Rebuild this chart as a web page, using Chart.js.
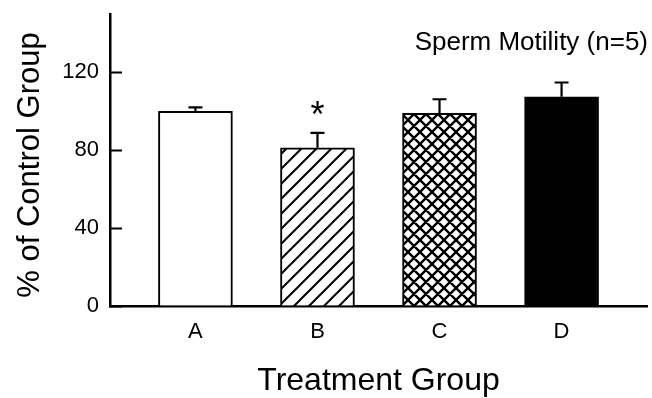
<!DOCTYPE html>
<html>
<head>
<meta charset="utf-8">
<script src="https://cdn.jsdelivr.net/npm/chart.js@4/dist/chart.umd.min.js"></script>
<style>
  html, body { margin: 0; padding: 0; background: #ffffff; }
  #wrap { width: 652px; height: 398px; }
</style>
</head>
<body>
<div id="wrap"><canvas id="c" width="652" height="398"></canvas></div>
<script>
// Treatment groups and sperm motility, as % of control (mean and SEM)
const groups = ['A', 'B', 'C', 'D'];
const motility = [100, 81.3, 99.0, 107.5];
const sem = [2.0, 7.6, 7.2, 7.3];
const significant = [false, true, false, false];
const yTicks = [0, 40, 80, 120];

const FONT = "'Liberation Sans', Arial, Helvetica, sans-serif";

// Hatch fills drawn into small repeating tiles
function hatchPattern(size, lineWidth, cross) {
  const t = document.createElement('canvas');
  t.width = size; t.height = size;
  const g = t.getContext('2d');
  g.fillStyle = '#ffffff';
  g.fillRect(0, 0, size, size);
  g.strokeStyle = '#000000';
  g.lineWidth = lineWidth;
  g.lineCap = 'square';
  g.beginPath();
  for (let k = -1; k <= 1; k++) {
    // "/" lines: x + y = size + k*size
    g.moveTo(-1, size + k * size + 1);
    g.lineTo(size + 1, k * size - 1);
    if (cross) {
      // "\" lines: x - y = k*size
      g.moveTo(-1, -1 - k * size);
      g.lineTo(size + 1, size + 1 - k * size);
    }
  }
  g.stroke();
  return document.getElementById('c').getContext('2d').createPattern(t, 'repeat');
}

const fills = [
  '#ffffff',
  hatchPattern(15, 2, false),
  hatchPattern(12, 2.4, true),
  '#000000'
];

// Upper SEM whiskers with caps, plus significance marks
const errorBars = {
  id: 'errorBars',
  afterDatasetsDraw(chart) {
    const ctx = chart.ctx;
    const y = chart.scales.y;
    const meta = chart.getDatasetMeta(0);
    ctx.save();
    ctx.strokeStyle = '#000000';
    ctx.lineWidth = 2.2;
    meta.data.forEach((bar, i) => {
      const top = y.getPixelForValue(motility[i] + sem[i]);
      ctx.beginPath();
      ctx.moveTo(bar.x, bar.y);
      ctx.lineTo(bar.x, top);
      ctx.moveTo(bar.x - 7, top);
      ctx.lineTo(bar.x + 7, top);
      ctx.stroke();
      if (significant[i]) {
        ctx.fillStyle = '#000000';
        ctx.font = '36px ' + FONT;
        ctx.textAlign = 'center';
        ctx.textBaseline = 'alphabetic';
        ctx.fillText('*', bar.x, top - 6);
      }
    });
    ctx.restore();
  }
};

// Rotated y-axis title and the panel label in the upper right corner
const labels = {
  id: 'labels',
  afterDraw(chart) {
    const ctx = chart.ctx;
    const area = chart.chartArea;
    ctx.save();
    ctx.fillStyle = '#000000';
    ctx.font = '26px ' + FONT;
    ctx.textAlign = 'right';
    ctx.textBaseline = 'alphabetic';
    ctx.fillText('Sperm Motility (n=5)', area.right + 1, 50);

    ctx.translate(39, (area.top + area.bottom) / 2 + 5);
    ctx.rotate(-Math.PI / 2);
    ctx.font = '31px ' + FONT;
    ctx.textAlign = 'center';
    ctx.fillText('% of Control Group', 0, 0);
    ctx.restore();
  }
};

new Chart(document.getElementById('c'), {
  type: 'bar',
  data: {
    datasets: [{
      data: groups.map((g, i) => ({ x: i, y: motility[i] })),
      backgroundColor: fills,
      borderColor: '#000000',
      borderWidth: 2,
      barThickness: 74
    }]
  },
  options: {
    responsive: false,
    animation: false,
    devicePixelRatio: 1,
    layout: { padding: { top: 14, right: 5, left: 0, bottom: 0 } },
    plugins: { legend: { display: false }, tooltip: { enabled: false } },
    scales: {
      x: {
        type: 'linear',
        offset: false,
        min: -0.7,
        max: 3.7,
        afterBuildTicks(scale) { scale.ticks = groups.map((g, i) => ({ value: i })); },
        afterFit(scale) {
          scale.height = 92;
          scale.paddingLeft = 0;
          scale.paddingRight = 0;
        },
        grid: { display: false, drawTicks: false, offset: false },
        border: { display: true, color: '#000000', width: 2.5 },
        ticks: {
          color: '#000000',
          font: { family: FONT, size: 22 },
          padding: 13,
          callback: (v) => groups[v]
        },
        title: {
          display: true,
          text: 'Treatment Group',
          color: '#000000',
          font: { family: FONT, size: 32, lineHeight: 1 },
          padding: { top: 0, bottom: 1 }
        }
      },
      y: {
        min: 0,
        max: 150,
        afterBuildTicks(scale) { scale.ticks = yTicks.map(v => ({ value: v })); },
        afterFit(scale) {
          scale.width = 110;
          scale.paddingTop = 0;
          scale.paddingBottom = 0;
        },
        grid: {
          drawOnChartArea: false,
          drawTicks: true,
          tickLength: -12,
          tickWidth: 2,
          tickColor: '#000000'
        },
        border: { display: true, color: '#000000', width: 2.5 },
        ticks: {
          color: '#000000',
          font: { family: FONT, size: 22 },
          padding: 23
        },
        title: { display: false }
      }
    }
  },
  plugins: [errorBars, labels]
});
</script>
</body>
</html>
